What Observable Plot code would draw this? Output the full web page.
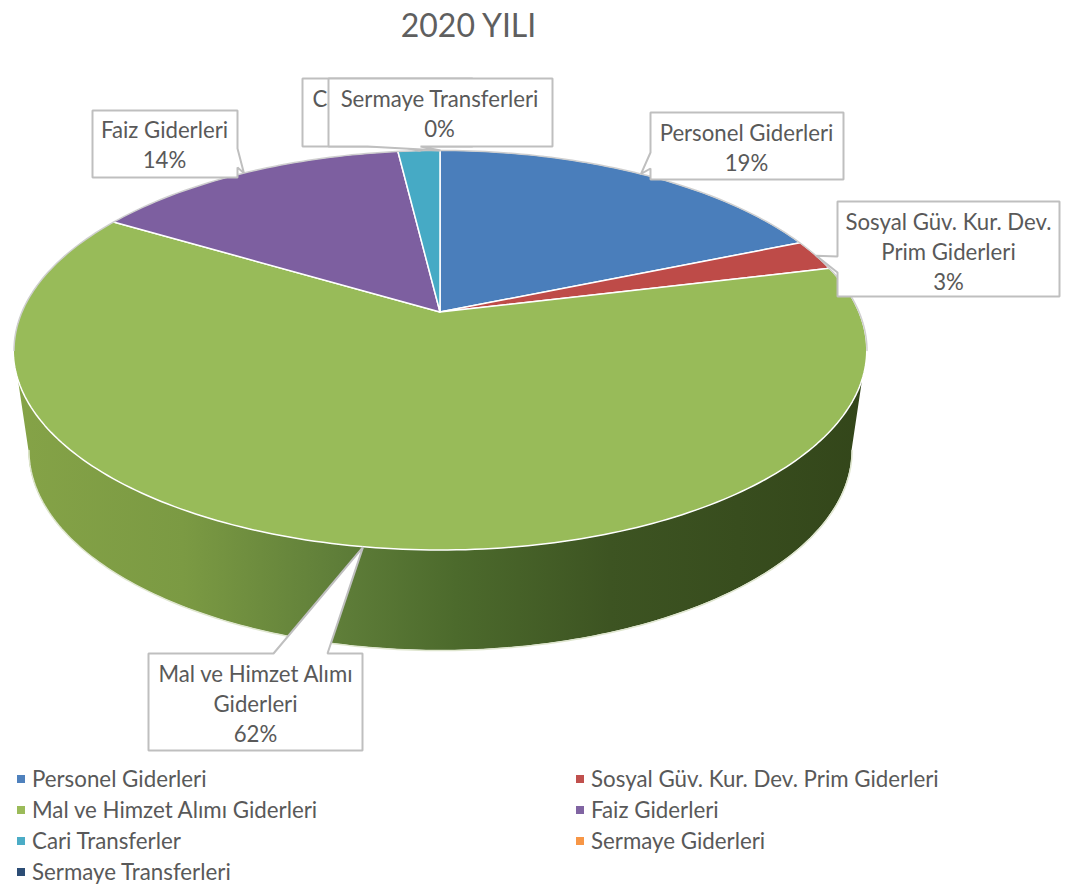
<!DOCTYPE html>
<html lang="tr">
<head>
<meta charset="utf-8">
<script src="https://cdn.jsdelivr.net/npm/d3@7"></script>
<script src="https://cdn.jsdelivr.net/npm/@observablehq/plot@0.6"></script>
<style>
  html, body { margin: 0; padding: 0; background: #fff; overflow: hidden; width: 1078px; height: 886px; }
  body { font-family: Lato, "Open Sans", sans-serif; color: #595959; }
  #title { height: 50px; line-height: 50px; font-size: 32px; font-weight: 400; color: #5f5f5f; text-align: center; width: 937px; }
  #chart { height: 710px; }
  #chart svg { display: block; }
  #legend { display: grid; grid-template-columns: 559px 1fr; grid-auto-rows: 31px; padding: 3px 0 0 17px; height: 123px; overflow: hidden; font-size: 22.3px; }
  #legend .it { display: flex; align-items: center; white-space: nowrap; }
  #legend .sw { width: 8px; height: 8px; margin-right: 7px; flex: none; }
</style>
</head>
<body>
<div id="title"></div>
<div id="chart"></div>
<div id="legend"></div>
<script>
const chartTitle = "2020 YILI";
const categories = ["Personel Giderleri", "Sosyal Güv. Kur. Dev. Prim Giderleri", "Mal ve Himzet Alımı Giderleri", "Faiz Giderleri", "Cari Transferler", "Sermaye Giderleri", "Sermaye Transferleri"];
const shares = [18.7, 2.5, 62.4, 14.49, 1.91, 0, 0];
const percentLabels = ["19%", "3%", "62%", "14%", "2%", "0%", "0%"];
const colors = ["#4a7ebb", "#be4b48", "#98bb59", "#7d5fa0", "#46aac5", "#f79646", "#2c4d75"];
const legendColors = ["#4f81bd", "#c0504d", "#9bbb59", "#8064a2", "#4bacc6", "#f79646", "#2c4d75"];

// Page geometry of the tilted disk (layout, not data)
const W = 1078, H = 710, T = 50;
const cx = 440, apexY = 312, A = 419, K = 0.19, B = -133.5;
const ell = { cx: 440, cy: 350, rx: 426.5, ry: 200 };
const wall = { dy: 100, xs: 0.965 };

// Project a share position (fraction of the full turn, clockwise from the top) on to the disk
function project(frac) {
  const t = frac * 2 * Math.PI, u = Math.sin(t), v = Math.cos(t), d = 1 + K * v;
  return { x: cx + A * u / d, y: (B * v + apexY) / d };
}
const total = d3.sum(shares);
const starts = d3.cumsum([0, ...shares]);

// Wedges
const wedgeRows = [];
categories.forEach((name, i) => {
  const a = starts[i] / total, b = starts[i + 1] / total;
  if (b <= a) return;
  const n = Math.max(2, Math.ceil((b - a) * 360));
  d3.range(n + 1).forEach(j => {
    const p = project(a + (b - a) * j / n);
    wedgeRows.push({ name, x: p.x, y: p.y, x0: cx, y0: apexY });
  });
});

// Front wall of the cylinder
const wallRows = d3.range(181).map(j => {
  const f = Math.PI * j / 180;
  const x = ell.cx + ell.rx * Math.cos(f), y = ell.cy + ell.ry * Math.sin(f);
  return { x, y, xb: ell.cx + ell.rx * wall.xs * Math.cos(f), yb: y + wall.dy };
});
// Back rim of the disk
const rimRows = d3.range(181).map(j => {
  const f = Math.PI + Math.PI * j / 180;
  return { x: ell.cx + ell.rx * Math.cos(f), y: ell.cy + ell.ry * Math.sin(f) };
});

// Callouts: box [left, top, right, bottom]; base is where the pointer leaves the box
const callouts = [
  { i: 4, box: [302, 78, 472, 146], edge: "bottom", base: [400, 430], tx: 386, ty: 112, lines: ["Cari Transferler"] },
  { i: 6, box: [328, 78, 552, 146], edge: "bottom", base: [367, 420], tx: 439, ty: 112, lines: ["Sermaye Transferleri"] },
  { i: 3, box: [92, 110, 237, 177], edge: "right", base: [148, 167], tx: 164, ty: 143, lines: ["Faiz Giderleri"] },
  { i: 0, box: [650, 112, 843, 179], edge: "left", base: [152, 168], tx: 746, ty: 146, lines: ["Personel Giderleri"] },
  { i: 1, box: [837, 201, 1059, 296], edge: "left", base: [256, 272], tx: 948, ty: 250, lines: ["Sosyal Güv. Kur. Dev.", "Prim Giderleri"] },
  { i: 2, box: [148, 653, 362, 750], edge: "top", base: [273, 327], tx: 255, ty: 702, lines: ["Mal ve Himzet Alımı", "Giderleri"] }
];
function calloutPath(c) {
  const [l, t, r, b] = c.box, [p, q] = c.base;
  const mid = (starts[c.i] + starts[c.i + 1]) / 2 / total;
  const tip = project(mid);
  let pts;
  if (c.edge === "top") pts = [[l, t], [p, t], [tip.x, tip.y], [q, t], [r, t], [r, b], [l, b]];
  if (c.edge === "bottom") pts = [[l, t], [r, t], [r, b], [q, b], [tip.x, tip.y], [p, b], [l, b]];
  if (c.edge === "left") pts = [[l, t], [r, t], [r, b], [l, b], [l, q], [tip.x, tip.y], [l, p]];
  if (c.edge === "right") pts = [[l, t], [r, t], [r, p], [tip.x, tip.y], [r, q], [r, b], [l, b]];
  return pts.map(([x, y]) => ({ x, y }));
}

const calloutMarks = callouts.flatMap(c => [
  Plot.line(calloutPath(c), { x: "x", y: "y", curve: "linear-closed", fill: "#fff", stroke: "#bfbfbf", strokeWidth: 2, strokeLinejoin: "miter" }),
  Plot.text([{ x: c.tx, y: c.ty, s: [...c.lines, percentLabels[c.i]].join("\n") }], {
    x: "x", y: "y", text: "s", fontSize: 22.2, lineHeight: 1.36, fill: "#595959", fontFamily: "Lato", textAnchor: "middle"
  })
]);

const wallGradient = () => {
  const s = d3.create("svg:defs");
  const g = s.append("linearGradient").attr("id", "wallFill").attr("gradientUnits", "userSpaceOnUse")
    .attr("x1", 13).attr("x2", 866).attr("y1", 0).attr("y2", 0);
  [[0, "#85a347"], [0.2, "#7b9a43"], [0.38, "#5f7e39"], [0.52, "#4c6a2c"], [0.7, "#3d5422"], [1, "#33461a"]]
    .forEach(([o, c]) => g.append("stop").attr("offset", o).attr("stop-color", c));
  return s.node();
};

const chart = Plot.plot({
  width: W, height: H, margin: 0,
  x: { domain: [0, W], range: [0, W], axis: null },
  y: { domain: [T, T + H], range: [0, H], axis: null },
  color: { domain: categories, range: colors },
  style: { background: "#fff", overflow: "visible" },
  marks: [
    wallGradient,
    Plot.area(wallRows, { x1: "x", y1: "y", x2: "xb", y2: "yb", fill: "url(#wallFill)" }),
    Plot.line(wallRows, { x: "xb", y: "yb", stroke: "#dfe6cf", strokeWidth: 1.5 }),
    Plot.area(wedgeRows, { x1: "x0", y1: "y0", x2: "x", y2: "y", z: "name", fill: "name", stroke: "#fff", strokeWidth: 1.5, strokeLinejoin: "round" }),
    Plot.line(rimRows, { x: "x", y: "y", stroke: "#cfcfcf", strokeWidth: 1.5 }),
    ...calloutMarks
  ]
});
document.getElementById("chart").append(chart);
document.getElementById("title").textContent = chartTitle;

const legend = document.getElementById("legend");
categories.forEach((name, i) => {
  const it = document.createElement("div"); it.className = "it";
  const sw = document.createElement("span"); sw.className = "sw"; sw.style.background = legendColors[i];
  const tx = document.createElement("span"); tx.textContent = name;
  it.append(sw, tx); legend.append(it);
});
</script>
</body>
</html>
